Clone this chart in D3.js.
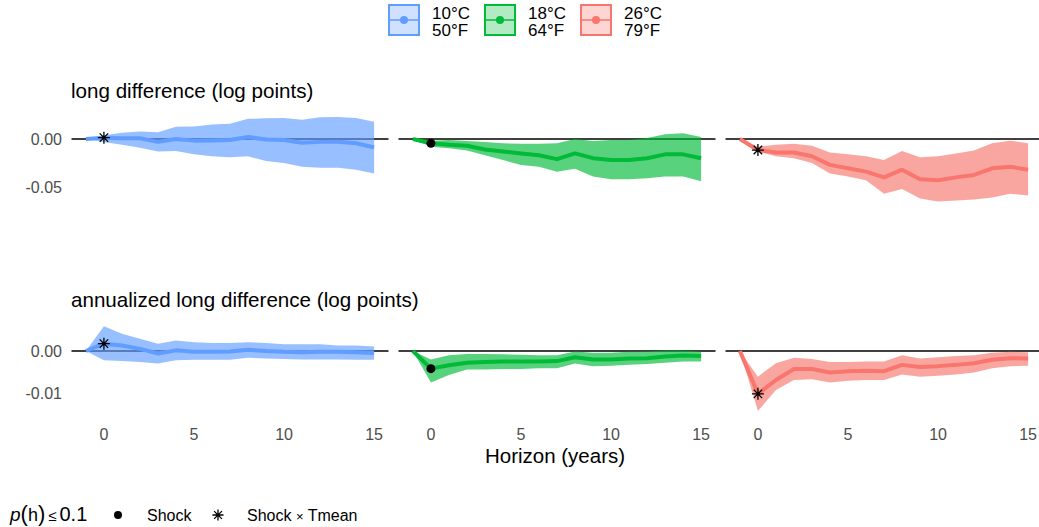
<!DOCTYPE html>
<html>
<head>
<meta charset="utf-8">
<script src="https://cdn.jsdelivr.net/npm/d3@7"></script>
<style>
  body { margin: 0; background: #fff; }
  svg text { font-family: "Liberation Sans", Arial, sans-serif; }
  .tick-label { fill: #4d4d4d; font-size: 16px; }
  .panel-title { fill: #000; font-size: 20.6px; }
</style>
</head>
<body>
<svg id="chart" width="1039" height="527"></svg>
<script>
// horizons (years)
const horizons = [-1, 0, 1, 2, 3, 4, 5, 6, 7, 8, 9, 10, 11, 12, 13, 14, 15];

// legend labels
const tempLabels = [["10°C", "50°F"], ["18°C", "64°F"], ["26°C", "79°F"]];
const rowTitles = ["long difference (log points)", "annualized long difference (log points)"];
const xTicks = [0, 5, 10, 15];
const yTicksTop = [0, -0.05];
const yTicksBottom = [0, -0.01];

// long difference, 10°C
const ld10Mid = [0, 0.0014, 0.0007, 0.0007, -0.003, 0.0, -0.0017, -0.0015, -0.001, 0.002, -0.0005, -0.001, -0.004, -0.003, -0.0028, -0.0045, -0.0087];
const ld10Lo = [0, -0.003, -0.006, -0.009, -0.013, -0.0125, -0.016, -0.018, -0.019, -0.018, -0.023, -0.025, -0.029, -0.030, -0.030, -0.032, -0.036];
const ld10Hi = [0, 0.004, 0.0066, 0.0077, 0.007, 0.0128, 0.013, 0.015, 0.016, 0.021, 0.0215, 0.022, 0.020, 0.0226, 0.023, 0.022, 0.018];
// long difference, 18°C
const ld18Mid = [0, -0.0045, -0.006, -0.007, -0.011, -0.013, -0.015, -0.017, -0.021, -0.015, -0.020, -0.022, -0.022, -0.020, -0.016, -0.016, -0.020];
const ld18Lo = [0, -0.008, -0.0097, -0.012, -0.017, -0.022, -0.027, -0.029, -0.034, -0.031, -0.039, -0.042, -0.042, -0.041, -0.039, -0.039, -0.044];
const ld18Hi = [0, -0.0017, -0.001, -0.002, -0.003, -0.0045, -0.005, -0.005, -0.0045, 0.0, -0.002, -0.001, -0.001, 0.001, 0.005, 0.006, 0.002];
// long difference, 26°C
const ld26Mid = [0, -0.0115, -0.014, -0.014, -0.018, -0.027, -0.0305, -0.034, -0.040, -0.032, -0.042, -0.043, -0.040, -0.0375, -0.0305, -0.029, -0.032];
const ld26Lo = [0, -0.013, -0.018, -0.020, -0.025, -0.036, -0.039, -0.043, -0.057, -0.052, -0.062, -0.065, -0.064, -0.063, -0.061, -0.057, -0.059];
const ld26Hi = [0, -0.008, -0.006, -0.005, -0.007, -0.014, -0.016, -0.018, -0.022, -0.0125, -0.019, -0.018, -0.015, -0.012, -0.0045, -0.0017, -0.0045];

// annualized long difference, 10°C
const ald10Mid = [0, 0.00175, 0.0013, 0.0005, -0.0006, 0.00015, -0.0002, -0.0002, -0.0001, 0.0003, 0.0, -0.0002, -0.0003, -0.0002, -0.0002, -0.0003, -0.0005];
const ald10Lo = [0, -0.0022, -0.0024, -0.0026, -0.003, -0.0022, -0.0021, -0.0021, -0.0021, -0.0016, -0.0018, -0.0019, -0.002, -0.002, -0.002, -0.0021, -0.0021];
const ald10Hi = [0, 0.0059, 0.0041, 0.0029, 0.0017, 0.0025, 0.0021, 0.0019, 0.0019, 0.0021, 0.0019, 0.0016, 0.0016, 0.0016, 0.0013, 0.0013, 0.0011];
// annualized long difference, 18°C
const ald18Mid = [0, -0.0042, -0.0034, -0.0028, -0.0026, -0.0025, -0.0025, -0.0025, -0.0024, -0.0015, -0.002, -0.002, -0.0018, -0.0017, -0.0013, -0.0011, -0.0012];
const ald18Lo = [0, -0.0075, -0.0057, -0.0044, -0.0044, -0.0043, -0.0043, -0.0041, -0.0041, -0.003, -0.0036, -0.0035, -0.0033, -0.0031, -0.0028, -0.0025, -0.0025];
const ald18Hi = [0, -0.002, -0.001, -0.0007, -0.0007, -0.0008, -0.0009, -0.001, -0.001, -0.0001, -0.0004, -0.0004, -0.0002, -0.0001, 0.0001, 0.0001, -0.0002];
// annualized long difference, 26°C
const ald26Mid = [0, -0.0102, -0.0069, -0.0043, -0.0043, -0.0051, -0.0048, -0.0047, -0.0048, -0.0033, -0.0038, -0.0036, -0.0033, -0.0029, -0.0021, -0.0017, -0.0018];
const ald26Lo = [0, -0.0143, -0.0093, -0.0069, -0.0067, -0.0075, -0.0071, -0.0069, -0.0069, -0.0056, -0.0061, -0.0059, -0.0056, -0.0051, -0.0041, -0.0036, -0.0035];
const ald26Hi = [0, -0.0061, -0.0029, -0.0016, -0.0019, -0.0026, -0.0026, -0.0025, -0.0025, -0.001, -0.0018, -0.0015, -0.0012, -0.001, -0.0004, -0.0002, -0.0003];

// significance marker at h = 0 per panel: "shock" (dot) or "tmean" (star)
const markerTypes = ["tmean", "shock", "tmean"];

const colors = ["#619CFF", "#00BA38", "#F8766D"];

const rows = [
  [[ld10Mid, ld10Lo, ld10Hi], [ld18Mid, ld18Lo, ld18Hi], [ld26Mid, ld26Lo, ld26Hi]],
  [[ald10Mid, ald10Lo, ald10Hi], [ald18Mid, ald18Lo, ald18Hi], [ald26Mid, ald26Lo, ald26Hi]]
];

const svg = d3.select("#chart");
const fmt = d3.formatLocale({decimal: ".", thousands: ",", grouping: [3], currency: ["", ""], minus: "-"}).format(".2f");

// facet geometry
const panelW = 317, panelGap = 10, panelLeft = 71.5;
const xScales = [0, 1, 2].map(i => d3.scaleLinear()
  .domain([-1.8, 15.8])
  .range([panelLeft + i * (panelW + panelGap), panelLeft + i * (panelW + panelGap) + panelW]));

const yScales = [
  d3.scaleLinear().domain([-0.0694, 0.0274]).range([205.6, 112.7]),
  d3.scaleLinear().domain([-0.0153, 0.0069]).range([415.3, 322.0])
];
const yTicks = [yTicksTop, yTicksBottom];
const titleY = [98, 307];

// star (ggplot shape 8)
const starPath = r => {
  const d = r * Math.SQRT1_2;
  return `M${-r},0L${r},0M0,${-r}L0,${r}M${-d},${-d}L${d},${d}M${-d},${d}L${d},${-d}`;
};

rows.forEach((row, ri) => {
  const y = yScales[ri];

  svg.append("text")
    .attr("class", "panel-title")
    .attr("x", 71)
    .attr("y", titleY[ri])
    .text(rowTitles[ri]);

  // y tick labels on the first column only
  svg.selectAll(null).data(yTicks[ri]).enter().append("text")
    .attr("class", "tick-label")
    .attr("x", 62)
    .attr("y", d => y(d))
    .attr("dy", "0.35em")
    .attr("text-anchor", "end")
    .text(d => fmt(d));

  row.forEach(([mid, lo, hi], ci) => {
    const x = xScales[ci];
    const g = svg.append("g");

    const area = d3.area()
      .x((d, i) => x(horizons[i]))
      .y0((d, i) => y(lo[i]))
      .y1((d, i) => y(hi[i]));

    const line = d3.line()
      .x((d, i) => x(horizons[i]))
      .y(d => y(d));

    // zero reference line
    g.append("line")
      .attr("x1", x.range()[0]).attr("x2", x.range()[1])
      .attr("y1", y(0)).attr("y2", y(0))
      .attr("stroke", "#000")
      .attr("stroke-width", 1.6);

    g.append("path")
      .datum(mid)
      .attr("d", area)
      .attr("fill", colors[ci])
      .attr("fill-opacity", 0.65);

    g.append("path")
      .datum(mid)
      .attr("d", line)
      .attr("fill", "none")
      .attr("stroke", colors[ci])
      .attr("stroke-width", 4)
      .attr("stroke-linejoin", "round");

    const mx = x(0), my = y(mid[1]);
    if (markerTypes[ci] === "shock") {
      g.append("circle").attr("cx", mx).attr("cy", my).attr("r", 4.5).attr("fill", "#000");
    } else {
      g.append("path")
        .attr("transform", `translate(${mx},${my})`)
        .attr("d", starPath(6))
        .attr("stroke", "#000")
        .attr("stroke-width", 1.3)
        .attr("fill", "none");
    }

    // x tick labels
    if (ri === 1) {
      svg.selectAll(null).data(xTicks).enter().append("text")
        .attr("class", "tick-label")
        .attr("x", d => x(d))
        .attr("y", 434)
        .attr("dy", "0.35em")
        .attr("text-anchor", "middle")
        .text(d => d);
    }
  });
});

// x axis title
svg.append("text")
  .attr("x", 555)
  .attr("y", 463)
  .attr("text-anchor", "middle")
  .style("font-size", "20.5px")
  .text("Horizon (years)");

// colour legend (top)
const keyX = [388, 484, 580];
tempLabels.forEach((lab, i) => {
  const kg = svg.append("g").attr("transform", `translate(${keyX[i]},4)`);
  kg.append("rect")
    .attr("x", 1).attr("y", 1).attr("width", 30).attr("height", 30)
    .attr("fill", colors[i]).attr("fill-opacity", 0.3)
    .attr("stroke", colors[i]).attr("stroke-width", 2);
  kg.append("line")
    .attr("x1", 2).attr("x2", 30).attr("y1", 16).attr("y2", 16)
    .attr("stroke", colors[i]).attr("stroke-width", 1.5);
  kg.append("circle").attr("cx", 16).attr("cy", 16).attr("r", 4).attr("fill", colors[i]);
  lab.forEach((t, j) => {
    kg.append("text")
      .attr("x", 44)
      .attr("y", 15 + j * 17)
      .style("font-size", "17px")
      .text(t);
  });
});

// significance legend (bottom)
const sig = svg.append("text").attr("x", 10).attr("y", 521).style("font-size", "18px");
sig.append("tspan").attr("font-style", "italic").style("font-size", "19px").text("p");
sig.append("tspan").style("font-size", "22px").text("(");
sig.append("tspan").text("h");
sig.append("tspan").style("font-size", "22px").text(")");
sig.append("tspan").style("font-size", "15px").attr("dx", 3).text("≤");
sig.append("tspan").style("font-size", "20px").attr("dx", 3).text("0.1");

svg.append("circle").attr("cx", 118).attr("cy", 515).attr("r", 4).attr("fill", "#000");
svg.append("text").attr("x", 147).attr("y", 521).style("font-size", "16px").text("Shock");
svg.append("path")
  .attr("transform", "translate(218,515)")
  .attr("d", starPath(5.5))
  .attr("stroke", "#000").attr("stroke-width", 1.3).attr("fill", "none");
const st = svg.append("text").attr("x", 247).attr("y", 521).style("font-size", "16px");
st.append("tspan").text("Shock ");
st.append("tspan").style("font-size", "13px").text("×");
st.append("tspan").text(" Tmean");
</script>
</body>
</html>
